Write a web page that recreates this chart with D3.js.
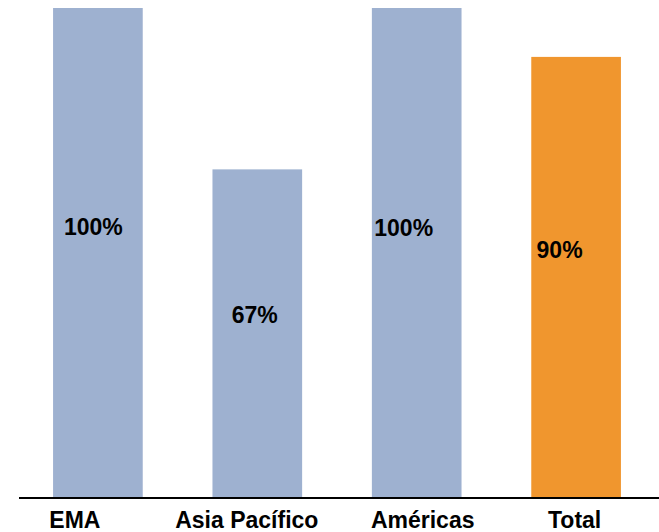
<!DOCTYPE html>
<html>
<head>
<meta charset="utf-8">
<script src="https://cdn.jsdelivr.net/npm/d3@7/dist/d3.min.js"></script>
<style>
  html, body { margin: 0; padding: 0; background: #fff; }
  svg { display: block; }
  text { font-family: "Liberation Sans", Arial, sans-serif; font-weight: bold; fill: #000; }
</style>
</head>
<body>
<svg id="chart" width="659" height="532"></svg>
<script>
// Regional share, percent
const categories = ["EMA", "Asia Pacífico", "Américas", "Total"];
const values = [100, 67, 100, 90];
const valueLabels = ["100%", "67%", "100%", "90%"];

// Layout tweaks: horizontal shift of value / category labels and vertical shift of value labels
const valueDx = [-4.5, -2.5, -13, -16.5];
const valueDy = [-17.5, -10, -16.5, -19];
const categoryDx = [-23, -10.5, 6, -1.5];

const width = 659, height = 532;
const baseY = 497, topY = 8;

const svg = d3.select("#chart");

const x = d3.scaleBand()
  .domain(categories)
  .range([18, 656])
  .paddingInner(0.4375)
  .paddingOuter(0.22);

const y = d3.scaleLinear().domain([0, 100]).range([baseY, topY]);

const color = d => d === "Total" ? "#F0962E" : "#9EB1D0";

const data = categories.map((c, i) => ({ c, v: values[i], label: valueLabels[i], i }));

svg.append("g").selectAll("rect")
  .data(data)
  .join("rect")
  .attr("x", d => x(d.c))
  .attr("y", d => y(d.v))
  .attr("width", x.bandwidth())
  .attr("height", d => y(0) - y(d.v))
  .attr("fill", d => color(d.c));

// Baseline axis
const axis = svg.append("g")
  .attr("transform", `translate(0,${baseY + 1})`)
  .call(d3.axisBottom(x).tickSize(0).tickPadding(0));
axis.select(".domain").remove();
axis.append("line")
  .attr("x1", 19).attr("x2", width)
  .attr("stroke", "#000").attr("stroke-width", 2);
axis.selectAll(".tick text")
  .attr("font-size", 23)
  .attr("font-family", "'Liberation Sans', Arial, sans-serif")
  .attr("font-weight", "bold")
  .attr("fill", "#000")
  .attr("dy", null)
  .attr("y", height - baseY - 5)
  .attr("x", (d, i) => categoryDx[i]);

// Value labels inside bars
svg.append("g").selectAll("text")
  .data(data)
  .join("text")
  .attr("x", d => x(d.c) + x.bandwidth() / 2 + valueDx[d.i])
  .attr("y", d => y(d.v / 2) + valueDy[d.i])
  .attr("text-anchor", "middle")
  .attr("font-size", 23)
  .text(d => d.label);
</script>
</body>
</html>
